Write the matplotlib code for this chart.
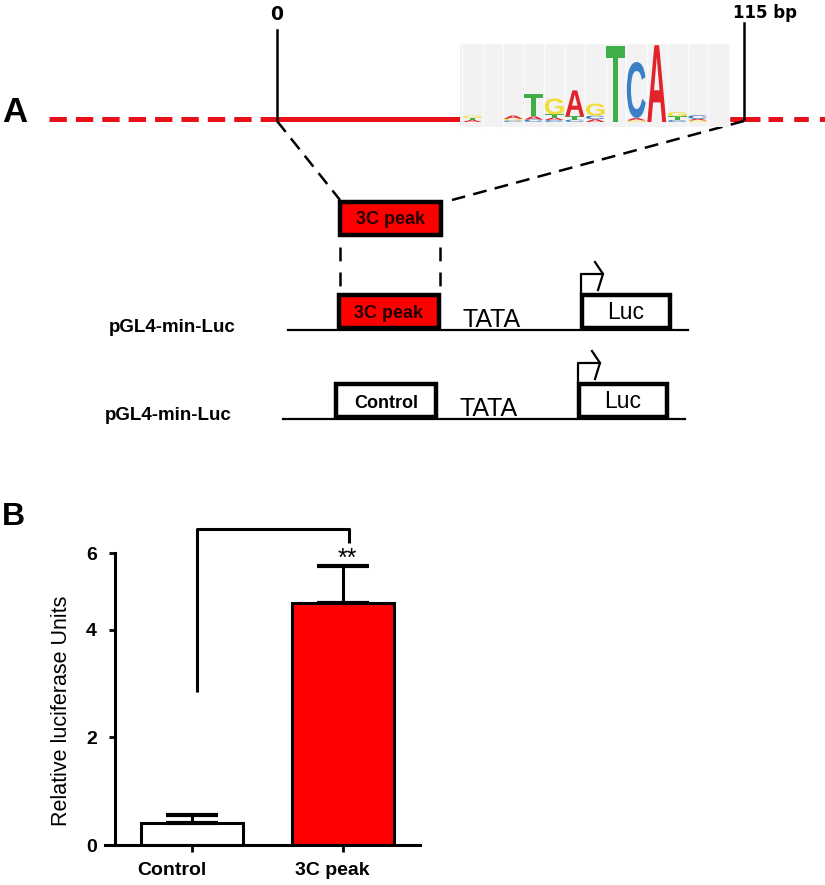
import numpy as np
import matplotlib
matplotlib.use('Agg')
import matplotlib.pyplot as plt
from matplotlib.patches import Rectangle, PathPatch
from matplotlib.textpath import TextPath
from matplotlib.font_manager import FontProperties
from matplotlib.transforms import Affine2D, ScaledTranslation

plt.rcParams['font.family'] = ['Liberation Sans', 'DejaVu Sans']
plt.rcParams['lines.scale_dashes'] = False

# ---- data ----
groups = ['Control', '3C peak']
rlu_mean = [0.41, 4.70]
rlu_err = [0.15, 0.97]
bar_colors = ['white', '#ff0000']
y_ticks = [0, 2, 4, 6]
sig_label = '**'

# sequence logo (bits per letter, bottom to top) for each column
logo_cols = [
    [('A', 0.05), ('T', 0.05), ('G', 0.06)],
    [],
    [('C', 0.04), ('G', 0.04), ('A', 0.08)],
    [('C', 0.06), ('A', 0.08), ('T', 0.55)],
    [('C', 0.05), ('A', 0.06), ('T', 0.08), ('G', 0.40)],
    [('C', 0.06), ('T', 0.08), ('A', 0.65)],
    [('A', 0.07), ('C', 0.09), ('G', 0.30)],
    [('T', 1.90)],
    [('G', 0.04), ('A', 0.06), ('C', 1.40)],
    [('A', 1.92)],
    [('C', 0.05), ('T', 0.09), ('G', 0.11)],
    [('G', 0.04), ('A', 0.04), ('C', 0.09)],
    [],
]
base_colors = {'A': '#e3232b', 'C': '#3d7fc6', 'G': '#f2dc3a', 'T': '#3fae49'}

fig = plt.figure(figsize=(8.25, 8.85), dpi=100)

# ---- panel A: schematic drawn in pixel coordinates ----
ax0 = fig.add_axes([0, 0, 1, 1])
ax0.set_xlim(0, 825)
ax0.set_ylim(885, 0)
ax0.axis('off')

ax0.text(2, 122, 'A', fontsize=25, fontweight='bold', va='baseline')
ax0.text(2, 525, 'B', fontsize=23, fontweight='bold', va='baseline')

# red region line
red = '#e8111a'
ax0.plot([49, 277], [119, 119], color=red, lw=3.6, ls=(0, (12.5, 6.5)))
ax0.plot([277, 760], [119, 119], color=red, lw=3.6, solid_capstyle='butt')
ax0.plot([768, 825], [119, 119], color=red, lw=3.6, ls=(0, (10.5, 8)))

# coordinate ticks
ax0.plot([277, 277], [30, 119], color='black', lw=1.8)
ax0.plot([744, 744], [23, 119], color='black', lw=1.8)
ax0.text(277, 15, '0', fontsize=13.5, fontweight='bold', ha='center', va='center',
         family='DejaVu Sans')
ax0.text(733, 13, '115 bp', fontsize=12, fontweight='bold', ha='left', va='center',
         family='DejaVu Sans')

# sequence logo
lx0, lx1, ly0, ly1 = 460, 730, 44, 127
ax0.add_patch(Rectangle((lx0, ly0), lx1 - lx0, ly1 - ly0, fc='#f2f2f2', ec='none', zorder=3))
col_w = 20.5
for k in range(14):
    xs = lx0 + 2 + k * col_w
    ax0.plot([xs, xs], [ly0, ly1], color='#fbfbfb', lw=1, zorder=3)
fp = FontProperties(family='Liberation Sans', weight='bold')
px_per_bit = 40.0
base_y = 122
for i, col in enumerate(logo_cols):
    x_left = lx0 + 2 + i * col_w + 0.8
    y_cur = base_y
    for ch, bits in col:
        h = bits * px_per_bit
        tp = TextPath((0, 0), ch, size=1, prop=fp)
        bb = tp.get_extents()
        tr = (Affine2D().translate(-bb.x0, -bb.y0)
              .scale((col_w - 1.6) / bb.width, -h / bb.height)
              .translate(x_left, y_cur))
        ax0.add_patch(PathPatch(tr.transform_path(tp), fc=base_colors[ch], ec='none', zorder=4))
        y_cur -= h

# zoom lines to the insert
ax0.plot([277, 340], [121, 200], color='black', lw=1.8, ls=(0, (10, 6)))
ax0.plot([744, 452], [121, 200], color='black', lw=1.8, ls=(0, (10, 6)))

box_lw = 3.2
# top insert box
ax0.add_patch(Rectangle((340, 202), 101, 33, fc='#ff0000', ec='black', lw=box_lw))
ax0.text(391, 219, '3C peak', fontsize=13, fontweight='bold', ha='center', va='center',
         color='#220000')

# vertical dashed lines down to the construct
for xv in (340, 440):
    ax0.plot([xv, xv], [247, 292], color='black', lw=1.8, ls=(0, (10, 8)))

# constructs
constructs = [
    dict(y=330, x0=288, x1=688, ins=(339, 439), insert='3C peak', fill='#ff0000',
         luc=(582, 670), label_x=109, tata_x=492),
    dict(y=419, x0=283, x1=685, ins=(336, 436), insert='Control', fill='white',
         luc=(579, 667), label_x=105, tata_x=489),
]
for c in constructs:
    yb = c['y']
    ax0.plot([c['x0'], c['x1']], [yb, yb], color='black', lw=1.6)
    ax0.add_patch(Rectangle((c['ins'][0], yb - 35), c['ins'][1] - c['ins'][0], 33,
                            fc=c['fill'], ec='black', lw=box_lw, zorder=3))
    ax0.text((c['ins'][0] + c['ins'][1]) / 2, yb - 16, c['insert'], fontsize=13,
             fontweight='bold', ha='center', va='center', zorder=4,
             color='#220000' if c['fill'] != 'white' else 'black')
    ax0.add_patch(Rectangle((c['luc'][0], yb - 35), c['luc'][1] - c['luc'][0], 33,
                            fc='white', ec='black', lw=box_lw, zorder=3))
    ax0.text((c['luc'][0] + c['luc'][1]) / 2, yb - 11, 'Luc', fontsize=16.5,
             ha='center', va='baseline', zorder=4)
    ax0.text(c['tata_x'], yb - 3, 'TATA', fontsize=18, ha='center', va='baseline')
    ax0.text(c['label_x'], yb - 3, 'pGL4-min-Luc', fontsize=13.5, fontweight='bold',
             ha='left', va='center')
    # promoter arrow
    xa = c['luc'][0] - 1
    ax0.plot([xa, xa, xa + 22], [yb - 37, yb - 56, yb - 56], color='black', lw=1.6)
    ax0.plot([xa + 14, xa + 22, xa + 17], [yb - 68, yb - 56, yb - 40], color='black', lw=1.6)

# ---- panel B: bar chart ----
def fwd(y):
    y = np.asarray(y, dtype=float)
    return np.where(y <= 4, y, 4 + (y - 4) * 0.716)


def inv(y):
    y = np.asarray(y, dtype=float)
    return np.where(y <= 4, y, 4 + (y - 4) / 0.716)


ax = fig.add_axes([105 / 825, 40 / 885, 315 / 825, 292 / 885])
ax.set_yscale('function', functions=(fwd, inv))
ax.spines['top'].set_visible(False)
ax.spines['right'].set_visible(False)
ax.spines['left'].set_position(('data', -0.51))
ax.spines['left'].set_linewidth(2.2)
ax.spines['bottom'].set_linewidth(2.2)

x = np.arange(len(groups))
ax.bar(x, rlu_mean, width=0.67, color=bar_colors, edgecolor='black', linewidth=2.2, zorder=2)
ax.errorbar(x, rlu_mean, yerr=[[0, 0], rlu_err], fmt='none', ecolor='black',
            elinewidth=2.2, capsize=19, capthick=3, zorder=3)
ax.set_xlim(-0.576, 1.51)
ax.set_ylim(0, 6)
ax.set_yticks(y_ticks)
ax.set_yticklabels([str(t) for t in y_ticks], fontweight='bold', fontsize=14)
ax.set_xticks(x)
ax.set_xticklabels(groups, fontweight='bold', fontsize=14)
ax.tick_params(axis='y', length=4, width=2, pad=9)
ax.tick_params(axis='x', length=5, width=2, pad=7)
# the category labels sit a little left of their ticks in the original
for lab, dx in zip(ax.get_xticklabels(), [-20, -11]):
    lab.set_transform(lab.get_transform() + ScaledTranslation(dx / 100, 0, fig.dpi_scale_trans))
ax.set_ylabel('Relative luciferase Units', fontsize=15.5)
ax.yaxis.set_label_coords(-0.105, 0.46)

# significance bracket
ax.plot([0.03, 0.03, 1.04, 1.04], [2.85, 6.62, 6.62, 6.26], color='black', lw=2.2,
        clip_on=False, solid_capstyle='butt')
ax.text(1.03, 5.85, sig_label, fontsize=18, ha='center', va='center')

fig.savefig('out.png', dpi=100)
